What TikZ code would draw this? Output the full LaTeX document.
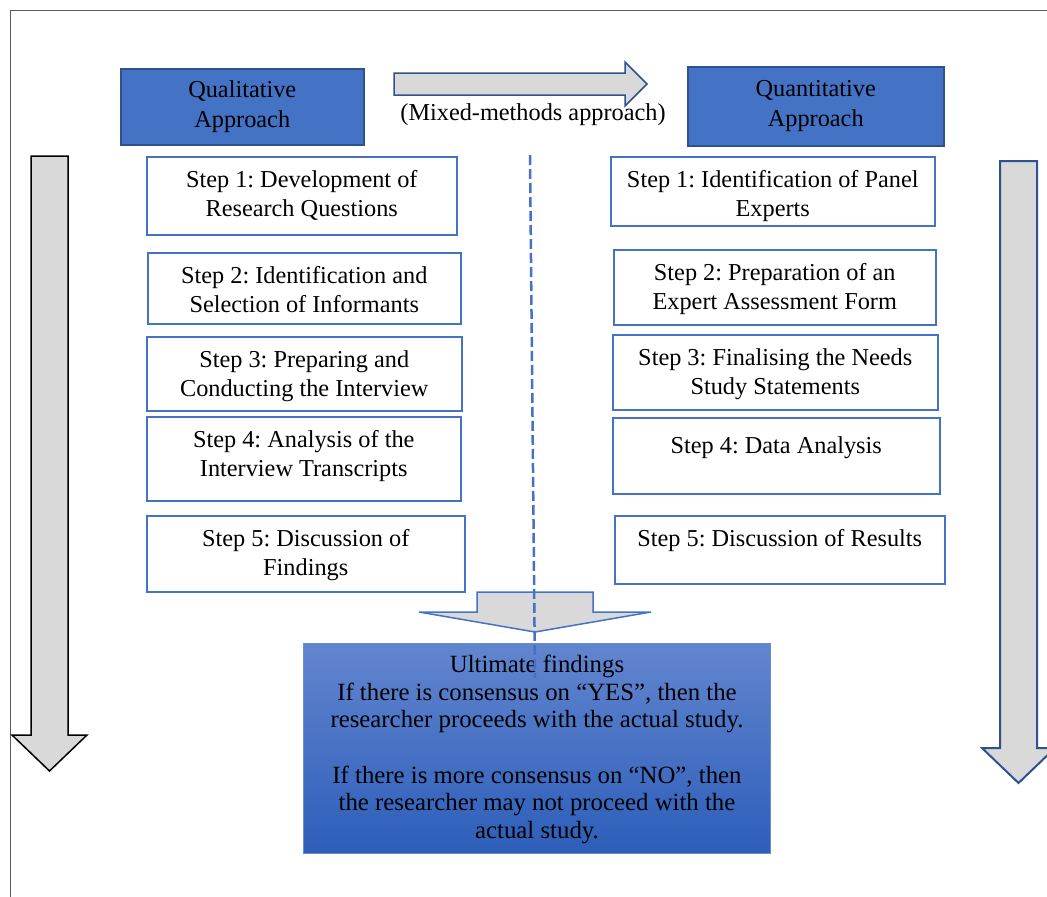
\documentclass[tikz,border=0pt]{standalone}
\usepackage{fontspec}
\setmainfont{Liberation Serif}
\frenchspacing
\definecolor{hdblue}{HTML}{4472C4}
\definecolor{hdedge}{HTML}{2F528F}
\definecolor{arrgray}{HTML}{D9D9D9}
\definecolor{rulegray}{HTML}{5A5A5A}
\definecolor{hdtop}{HTML}{6285CF}
\definecolor{hdbot}{HTML}{2D5EB9}
\newcommand{\topbox}[4][10]{\parbox[c][#3pt][t]{#2pt}{\centering\vspace*{#1pt}\strut #4}}
\tikzset{hdbox/.style={draw=hdedge, line width=1.5pt, fill=hdblue, anchor=north west, inner sep=0pt,
    align=center, font=\fontsize{24.3}{30}\selectfont},
  stepbox/.style={draw=hdblue, line width=1.5pt, fill=white, anchor=north west, inner sep=0pt},
  finalbox/.style={draw=hdblue!80, line width=1pt, top color=hdtop, bottom color=hdbot,
    anchor=north west, inner sep=0pt, font=\fontsize{24.8}{27.7}\selectfont},
  blockarr/.style={fill=arrgray, line width=1.5pt, line join=miter},
  split/.style={draw=hdblue, line width=2.5pt, dash pattern=on 10pt off 4pt}}

\begin{document}
\begin{tikzpicture}[x=1pt, y=-1pt, font=\fontsize{24.3}{29}\selectfont]
  \useasboundingbox (0,0) rectangle (1047,897);
  % frame of the page, only top and left edges show
  \draw[rulegray, line width=1pt] (10,897) -- (10,10) -- (1047,10);

  \node[hdbox, minimum width=243pt, minimum height=76pt] (qual) at (120,68) {Qualitative\\Approach};
  \node[hdbox, minimum width=256pt, minimum height=79pt] (quant) at (687,66) {Quantitative\\Approach};

  % mixed-methods arrow between the two approaches
  \draw[blockarr, draw=hdedge] (394,73) -- (625,73) -- (625,62) -- (647,84) -- (625,106)
    -- (625,95) -- (394,95) -- cycle;
  \node (mix) at (533,115) {(Mixed-methods approach)};

  % qualitative steps
  \node[stepbox] (l1) at (146,156) {\topbox{310}{78}{Step 1: Development of\\Research Questions}};
  \node[stepbox] (l2) at (147,252) {\topbox{313}{71}{Step 2: Identification and\\Selection of Informants}};
  \node[stepbox] (l3) at (146,336) {\topbox{315}{74}{Step 3: Preparing and\\Conducting the Interview}};
  \node[stepbox] (l4) at (146,416) {\topbox{314}{84}{Step 4: Analysis of the\\Interview Transcripts}};
  \node[stepbox] (l5) at (146,515) {\topbox{318}{76}{Step 5: Discussion of\\Findings}};

  % quantitative steps
  \node[stepbox] (r1) at (610,156) {\topbox{324}{69}{Step 1: Identification of Panel\\Experts}};
  \node[stepbox] (r2) at (613,249) {\topbox{322}{75}{Step 2: Preparation of an\\Expert Assessment Form}};
  \node[stepbox] (r3) at (612,334) {\topbox{325}{75}{Step 3: Finalising the Needs\\Study Statements}};
  \node[stepbox] (r4) at (612,417) {\topbox[15]{327}{76}{Step 4: Data Analysis}};
  \node[stepbox] (r5) at (614,515) {\topbox{330}{68}{Step 5: Discussion of Results}};

  % long arrows down each side
  \draw[blockarr, draw=black] (31,156) -- (68,156) -- (68,735) -- (87,735) -- (49.5,771)
    -- (12,735) -- (31,735) -- cycle;
  \draw[blockarr, draw=hdedge, line width=2pt] (1000,161) -- (1037,161) -- (1037,748) -- (1055,748)
    -- (1018.5,783) -- (982,748) -- (1000,748) -- cycle;

  % both strands merge into the findings
  \draw[blockarr, draw=hdblue] (477,592) -- (593,592) -- (593,612) -- (651,612) -- (535,632)
    -- (419,612) -- (477,612) -- cycle;
  \node[finalbox] (final) at (303,643) {\topbox[9.6]{467}{210}{Ultimate findings\\
    If there is consensus on ``YES'', then the\\researcher proceeds with the actual study.\\[27.7pt]
    If there is more consensus on ``NO'', then\\the researcher may not proceed with the\\actual study.}};

  \coordinate (sTop) at (530,155);
  \coordinate (sBot) at (535,678);
  \draw[split] (sTop) -- (sBot);
\end{tikzpicture}
\end{document}
